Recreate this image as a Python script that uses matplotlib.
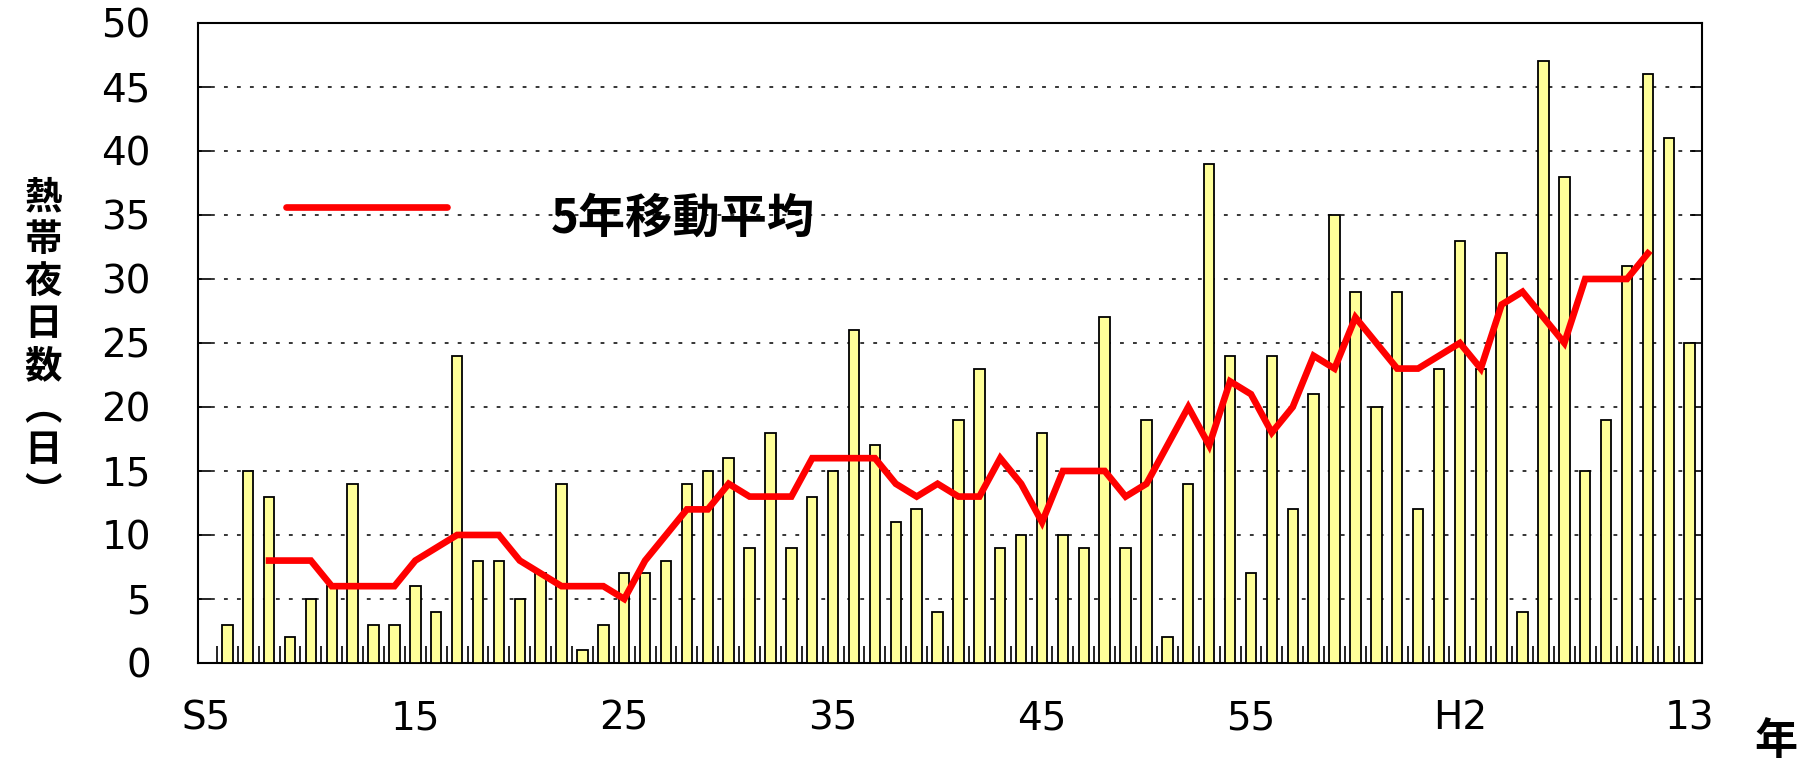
import numpy as np
import matplotlib
matplotlib.use("Agg")
import matplotlib.pyplot as plt
from matplotlib.lines import Line2D

# 熱帯夜日数 S6(1931) .. H13(2001)
nights = [3, 15, 13, 2, 5, 6, 14, 3, 3, 6,
          4, 24, 8, 8, 5, 7, 14, 1, 3, 7,
          7, 8, 14, 15, 16, 9, 18, 9, 13, 15,
          26, 17, 11, 12, 4, 19, 23, 9, 10, 18,
          10, 9, 27, 9, 19, 2, 14, 39, 24, 7,
          24, 12, 21, 35, 29, 20, 29, 12, 23, 33,
          23, 32, 4, 47, 38, 15, 19, 31, 46, 41,
          25]

# 5年移動平均 (S8 .. H11)
moving_avg = [8, 8, 8, 6, 6, 6, 6, 8, 9, 10,
              10, 10, 8, 7, 6, 6, 6, 5, 8, 10,
              12, 12, 14, 13, 13, 13, 16, 16, 16, 16,
              14, 13, 14, 13, 13, 16, 14, 11, 15, 15,
              15, 13, 14, 17, 20, 17, 22, 21, 18, 20,
              24, 23, 27, 25, 23, 23, 24, 25, 23, 28,
              29, 27, 25, 30, 30, 30, 32]

# x positions counted in years from S5
tick_pos = [0, 10, 20, 30, 40, 50, 60, 71]
tick_labels = ["S5", "15", "25", "35", "45", "55", "H2", "13"]
ma_start = 3

bar_x = np.arange(1, len(nights) + 1)
ma_x = np.arange(ma_start, ma_start + len(moving_avg))

latin = "DejaVu Sans"
cjk = ["Noto Sans CJK JP", "DejaVu Sans"]
red = "#FF0000"

fig = plt.figure(figsize=(18.07, 7.66), dpi=100)
ax = fig.add_axes([0.1096, 0.1345, 0.8324, 0.8355])

ax.bar(bar_x, nights, width=0.5, color="#FFFF99", edgecolor="black",
       linewidth=1.3, zorder=3)
ax.plot(ma_x, moving_avg, color=red, lw=4.8, solid_joinstyle="miter", zorder=4)

ax.set_xlim(-0.4, 71.6)
ax.set_ylim(0, 50)
ax.set_yticks(np.arange(0, 51, 5))
ax.set_xticks(tick_pos)
ax.set_xticklabels(tick_labels)
ax.set_xticks(np.arange(0.5, 71, 1.0), minor=True)

ax.yaxis.grid(True, color="black", linestyle=(0, (2.5, 6)), lw=1.1, zorder=1)
ax.set_axisbelow(True)

ax.tick_params(axis="y", direction="in", length=9, width=1.2, pad=34,
               left=True, right=True, labelsize=28)
ax.tick_params(axis="x", which="major", direction="in", length=0, pad=26,
               labelsize=28)
ax.tick_params(axis="x", which="minor", direction="in", length=12, width=1.2)
for lab in ax.get_xticklabels() + ax.get_yticklabels():
    lab.set_fontfamily(latin)

for s in ax.spines.values():
    s.set_linewidth(1.5)

# legend drawn by hand: long red stroke, wide gap, bold label
fig.add_artist(Line2D([0.1583, 0.2474], [0.7292, 0.7292], color=red, lw=4.8,
                      solid_capstyle="round"))
fig.text(0.3049, 0.714, "5年移動平均", family=cjk, fontweight="bold",
         fontsize=34, ha="left", va="center")

fig.text(0.024, 0.55, "熱\n帯\n夜\n日\n数\n︵\n日\n︶", family=cjk,
         fontweight="bold", fontsize=27, ha="center", va="center",
         linespacing=1.1)
fig.text(0.983, 0.032, "年", family=cjk, fontweight="bold", fontsize=31,
         ha="center", va="center")

fig.savefig("out.png", dpi=100)
